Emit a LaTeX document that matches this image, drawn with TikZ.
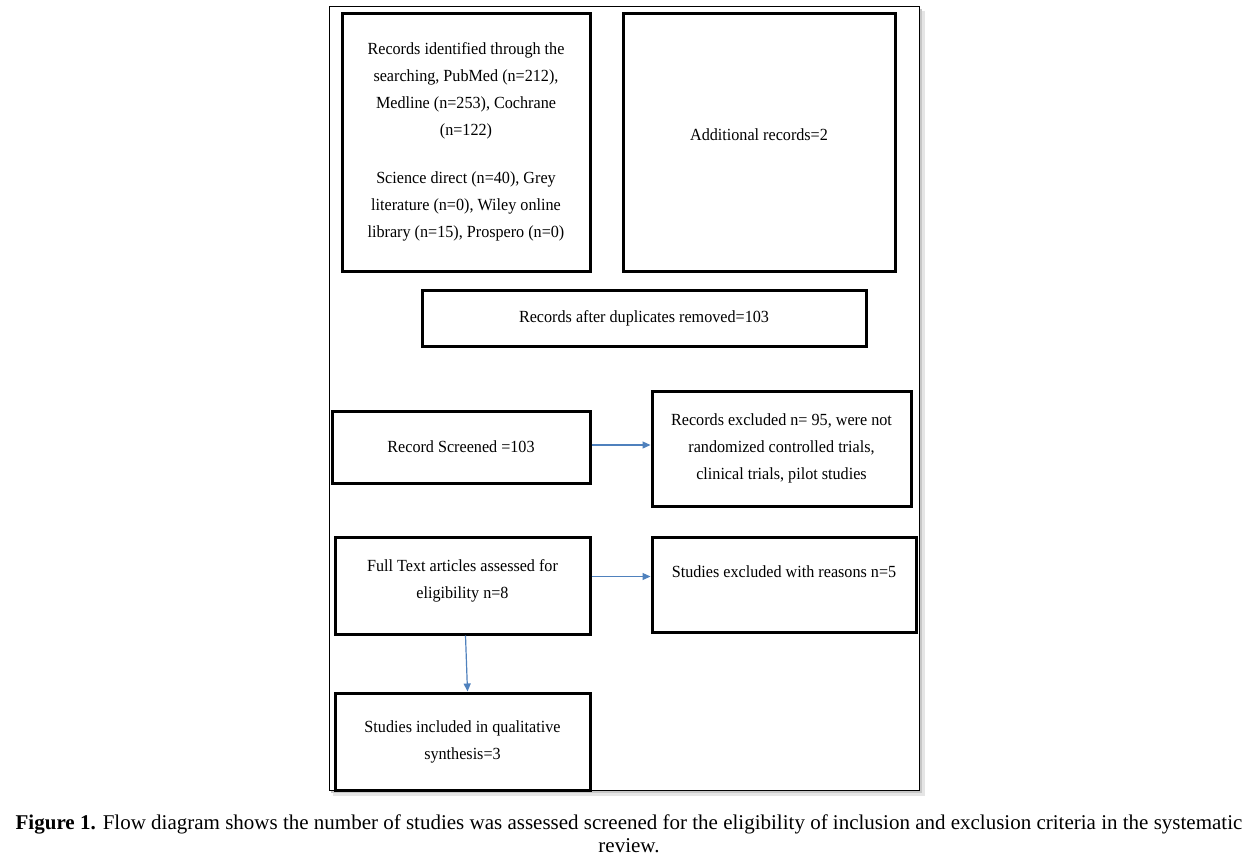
\documentclass[tikz,border=0pt]{standalone}
\usepackage{fontspec}
\setmainfont{Liberation Serif}
\newfontfamily\boxfont[FakeStretch=0.95]{Liberation Serif}
\newfontfamily\capfont{Liberation Serif}
\usetikzlibrary{arrows.meta}
\definecolor{arrowblue}{RGB}{79,129,189}
\tikzset{
  box/.style={draw=black, line width=3pt, fill=white, inner sep=0pt, align=center,
    font=\boxfont\fontsize{17}{27}\selectfont},
  boxtext/.style={inner sep=0pt, align=center, font=\boxfont\fontsize{17}{27}\selectfont},
  flow/.style={draw=arrowblue, line width=1.2pt, -{Triangle[length=8pt,width=7pt]}},
}
\begin{document}
\begin{tikzpicture}[x=1pt,y=-1pt]
\useasboundingbox[fill=white] (0,0) rectangle (1254,860);
% frame with shadow
\fill[black!10] (333,11) rectangle (925,796);
\fill[black!22] (331,9) rectangle (922,793);
\draw[fill=white, line width=1pt] (329,6) rectangle (919,790);

\node[box, minimum width=248pt, minimum height=258pt] (b1) at (466,142)
  {Records identified through the\\ searching, PubMed (n=212),\\ Medline (n=253), Cochrane\\ (n=122)\\[21pt]
   Science direct (n=40), Grey\\ literature (n=0), Wiley online\\ library (n=15), Prospero (n=0)};
\node[box, minimum width=272pt, minimum height=258pt] (b2) at (759,142) {};
\node[boxtext] (t2) at (759,135) {Additional records=2};

\node[box, minimum width=444pt, minimum height=56pt] (b3) at (644,318) {Records after duplicates removed=103};

\node[box, minimum width=258pt, minimum height=72pt] (b4) at (461,447) {Record Screened =103};
\node[box, minimum width=259pt, minimum height=115pt] (b5) at (781.5,448.5)
  {Records excluded n= 95, were not\\ randomized controlled trials,\\ clinical trials, pilot studies};

\node[box, minimum width=255pt, minimum height=97pt] (b6) at (462.5,585.5) {};
\node[boxtext] (t6) at (462.5,581) {Full Text articles assessed for\\ eligibility n=8};
\node[box, minimum width=264pt, minimum height=95pt] (b7) at (784,584.5) {};
\node[boxtext] (t7) at (784,572) {Studies excluded with reasons n=5};

\node[box, minimum width=255pt, minimum height=97pt] (b8) at (462.5,741.5)
  {Studies included in qualitative\\ synthesis=3};

\draw[flow] ([yshift=2pt]b4.east) -- ([yshift=2pt]b4.east -| b5.west);
\draw[flow] ([yshift=9pt]b6.east) -- ([yshift=9pt]b6.east -| b7.west);
\draw[flow] ([xshift=3pt]b6.south) -- ([xshift=5pt]b8.north);

\node[align=center, inner sep=0pt, font=\capfont\fontsize{21}{23}\selectfont] (cap) at (629,834)
  {\textbf{Figure 1.} Flow diagram shows the number of studies was assessed screened for the eligibility of inclusion and exclusion criteria in the systematic\\ review.};
\end{tikzpicture}
\end{document}
